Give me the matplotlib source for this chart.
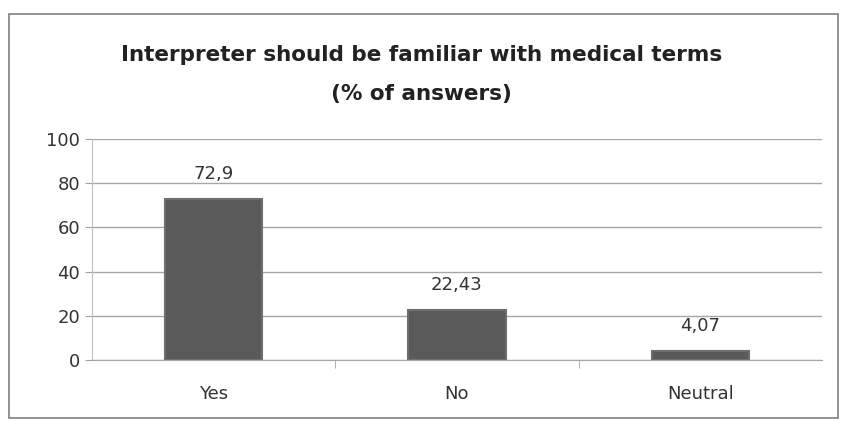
import matplotlib.pyplot as plt
from matplotlib.patches import Rectangle

categories = ['Yes', 'No', 'Neutral']
values = [72.9, 22.43, 4.07]
value_labels = ['72,9', '22,43', '4,07']
y_ticks = [0, 20, 40, 60, 80, 100]

plt.rcParams['font.family'] = ['DejaVu Sans']

fig = plt.figure(figsize=(8.43, 4.22), dpi=100)
fig.patch.set_facecolor('white')

# outer chart frame
fig.patches.append(Rectangle((9 / 843, 4 / 422), 829 / 843, 404 / 422,
                             transform=fig.transFigure, fill=False,
                             edgecolor='#7f7f7f', linewidth=1.2))

ax = fig.add_axes([92 / 843, 62 / 422, 730 / 843, 221 / 422])
x = range(len(categories))
ax.bar(x, values, width=0.4, color='#5a5a5a', edgecolor='#6e6e6e', linewidth=1.5)

for xi, v, lab in zip(x, values, value_labels):
    ax.annotate(lab, (xi, v), xytext=(0, 18), textcoords='offset points',
                ha='center', va='center', fontsize=13, color='#333333')

ax.set_xlim(-0.5, len(categories) - 0.5)
ax.set_ylim(0, 100)
ax.set_yticks(y_ticks)
ax.set_xticks(list(x))
ax.set_xticklabels(categories)
ax.set_xticks([0.5, 1.5], minor=True)
ax.tick_params(axis='x', which='major', length=0, labelsize=13, pad=18, colors='#333333')
ax.tick_params(axis='x', which='minor', length=6, color='#a0a0a0')
ax.tick_params(axis='y', length=5, labelsize=13, colors='#333333', color='#a0a0a0')
ax.grid(axis='y', color='#a6a6a6', linewidth=1)
ax.set_axisbelow(True)
for side in ['top', 'right']:
    ax.spines[side].set_visible(False)
ax.spines['left'].set_color('#c0c0c0')
ax.spines['bottom'].set_color('#a6a6a6')

fig.text(0.5, 1 - 55 / 422, 'Interpreter should be familiar with medical terms',
         ha='center', va='center', fontsize=15.5, fontweight='bold', color='#222222')
fig.text(0.5, 1 - 94 / 422, '(% of answers)',
         ha='center', va='center', fontsize=15.5, fontweight='bold', color='#222222')

fig.savefig('out.png', dpi=100)
